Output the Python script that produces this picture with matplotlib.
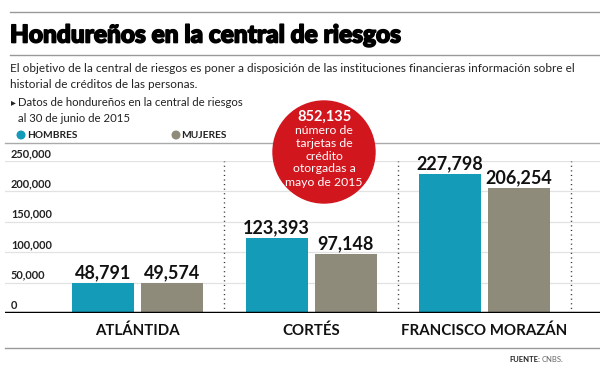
import matplotlib.pyplot as plt
from matplotlib.patches import Ellipse
from matplotlib.lines import Line2D
import matplotlib.patheffects as pe
import numpy as np

plt.rcParams['font.family'] = ['Lato', 'DejaVu Sans']

departamentos = ['ATLÁNTIDA', 'CORTÉS', 'FRANCISCO MORAZÁN']
hombres = [48791, 123393, 227798]
mujeres = [49574, 97148, 206254]
yticks = [0, 50000, 100000, 150000, 200000, 250000]

TEAL = '#139BB8'
GRAY = '#8E8B7B'
RED = '#D2161E'

W, H = 600, 370
fig = plt.figure(figsize=(6, 3.7), dpi=100)


def fx(x):
    return x / W


def fy(y):
    return 1 - y / H


def dot(x, y, r, color, z=3):
    # round in pixels, not in figure fractions
    fig.add_artist(Ellipse((fx(x), fy(y)), 2 * r / W, 2 * r / H, transform=fig.transFigure,
                           color=color, zorder=z))


# header
fig.add_artist(Line2D([fx(10), 1], [fy(12), fy(12)], color='#999999', lw=1))
fig.text(fx(10), fy(35), 'Hondureños en la central de riesgos', fontsize=17.6,
         fontweight='black', va='center', ha='left', color='black',
         path_effects=[pe.withStroke(linewidth=1.2, foreground='black')])
fig.add_artist(Line2D([fx(10), 1], [fy(55), fy(55)], color='#999999', lw=1))
fig.text(fx(10), fy(68), 'El objetivo de la central de riesgos es poner a disposición de las '
         'instituciones financieras información sobre el', fontsize=8.45, va='center', color='#222222')
fig.text(fx(10), fy(84), 'historial de créditos de las personas.', fontsize=8.45, va='center',
         color='#222222')
fig.text(fx(11), fy(103), '\u25B8', fontsize=7, va='center', color='#222222')
fig.text(fx(18), fy(103), 'Datos de hondureños en la central de riesgos', fontsize=8.2,
         va='center', color='#222222')
fig.text(fx(18), fy(118), 'al 30 de junio de 2015', fontsize=8.2, va='center', color='#222222')

# legend
dot(21, 135, 3.8, TEAL)
fig.text(fx(27), fy(135), 'HOMBRES', fontsize=7.3, fontweight='bold', va='center', color='#222222')
dot(176, 135, 3.8, GRAY)
fig.text(fx(181), fy(135), 'MUJERES', fontsize=7.3, fontweight='bold', va='center', color='#222222')
fig.add_artist(Line2D([fx(5), 1], [fy(143), fy(143)], color='#aaaaaa', lw=1))

# chart axes: baseline at y=313 px, 250k at y=161 px
left_px, right_px = 5, 600
ax = fig.add_axes([fx(left_px), fy(313), fx(right_px - left_px), (313 - 161) / H])
unit = 173.5
c0 = 137.5
ax.set_xlim((left_px - c0) / unit, (right_px - c0) / unit)
ax.set_ylim(0, 250000)
ax.axis('off')

x = np.arange(len(departamentos))
bw = 62 / unit
off = 34.5 / unit
for yv in yticks[1:]:
    ax.axhline(yv, color='#e2e2e2', lw=0.9, zorder=0)
for yv in yticks:
    ax.text(0.01, yv + 3500, f'{yv:,}', transform=ax.get_yaxis_transform(), fontsize=7.9,
            fontweight='bold', ha='left', va='bottom', color='#222222')

ax.bar(x - off, hombres, bw, color=TEAL, zorder=2)
ax.bar(x + off, mujeres, bw, color=GRAY, zorder=2)
for i in range(len(departamentos)):
    ax.text(x[i] - off, hombres[i] + 3000, f'{hombres[i]:,}', ha='center', va='bottom',
            fontsize=13, fontweight='bold', color='#111111')
    ax.text(x[i] + off, mujeres[i] + 3000, f'{mujeres[i]:,}', ha='center', va='bottom',
            fontsize=13, fontweight='bold', color='#111111')
    ax.plot([x[i] + 0.5, x[i] + 0.5], [0, 250000], color='#333333', lw=1,
            linestyle=(0, (0.8, 2.5)), zorder=1)
    ax.text(x[i], -29000, departamentos[i], ha='center', va='center', fontsize=10.8,
            fontweight='bold', color='#111111', clip_on=False)
ax.axhline(0, color='black', lw=2.5, zorder=3)

# red circle callout
dot(324, 152, 51, RED, z=5)
fig.text(fx(324), fy(117), '852,135', fontsize=10.5, fontweight='bold', color='white',
         ha='center', va='center', zorder=6)
circ_lines = ['número de', 'tarjetas de', 'crédito', 'otorgadas a', 'mayo de 2015']
for k, t in enumerate(circ_lines):
    fig.text(fx(324), fy(130 + 13 * k), t, fontsize=8.8, color='white', ha='center',
             va='center', zorder=6)

# footer
fig.add_artist(Line2D([fx(5), 1], [fy(348), fy(348)], color='#999999', lw=1))
fig.text(fx(509), fy(360), 'FUENTE:', fontsize=5.5, fontweight='bold', va='center',
         color='#222222')
fig.text(fx(542), fy(360), 'CNBS.', fontsize=5.5, va='center', color='#666666')

fig.savefig('out.png', dpi=100)
